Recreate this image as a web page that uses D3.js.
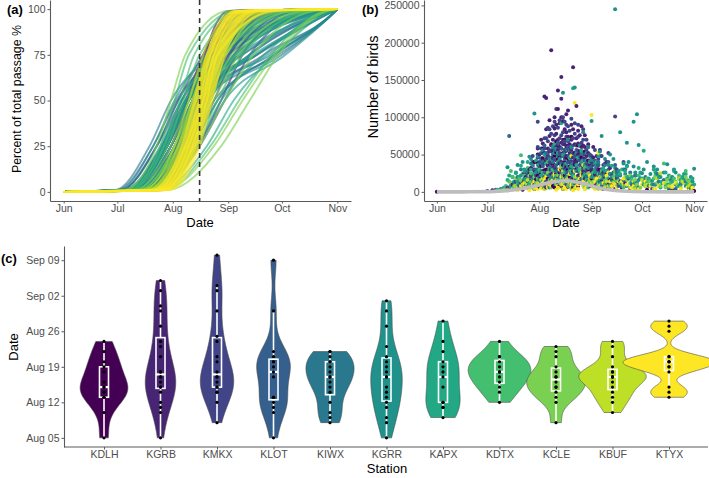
<!DOCTYPE html>
<html><head><meta charset="utf-8">
<script src="https://cdn.jsdelivr.net/npm/d3@7"></script>
<style>body{margin:0;background:#fff} text{font-family:"Liberation Sans",Arial,sans-serif}</style>
</head><body><svg id="chart" width="709" height="478"></svg>
<script>
// ---------- shared categories / ticks ----------
const stations = ["KDLH","KGRB","KMKX","KLOT","KIWX","KGRR","KAPX","KDTX","KCLE","KBUF","KTYX"];
const monthLabels = ["Jun","Jul","Aug","Sep","Oct","Nov"];
const monthDays = [0,30,61,92,122,153];          // days since Jun 1
const pctTicks = [0,25,50,75,100];
const birdTicks = [0,50000,100000,150000,200000,250000];
const dateTickDays = [0,7,14,21,28,35];           // days since Aug 05
const dateTickLabels = ["Aug 05","Aug 12","Aug 19","Aug 26","Sep 02","Sep 09"];
const meanPassageDay = 76;                        // dashed line (Aug 16)

// ---------- panel (a): cumulative passage curves ----------
// each curve: day (since Jun 1) reaching 1%,25%,50%,75%,99% of passage
const passageQuantiles = [1,25,50,75,99];
const curvesKDLH = [[46,66,75,82,96],[40,62,72,80,94],[44,64,74,83,98],[49,68,76,84,100],[42,60,70,81,102],[50,70,79,88,108],[36,58,69,78,96],[47,67,77,86,106],[52,71,80,90,112],[44,65,73,79,92]];
const curvesKGRB = [[34,55,66,80,108],[41,62,74,88,120],[46,68,80,92,125],[39,60,72,85,114],[49,72,84,96,128],[44,66,77,90,118],[37,58,70,82,108],[51,75,88,100,130],[42,63,75,86,110],[48,70,81,93,122]];
const curvesKMKX = [[32,52,64,78,106],[38,58,70,84,114],[44,66,78,92,124],[40,62,73,86,116],[49,70,82,95,128],[36,57,68,80,104],[46,68,80,98,135],[42,64,76,90,120],[52,76,90,104,138],[39,60,72,83,108]];
const curvesKLOT = [[30,50,63,88,145],[36,57,70,100,150],[42,64,76,108,151],[34,55,68,92,146],[46,68,80,112,152],[39,60,73,96,148],[49,72,86,118,152],[32,52,66,84,140],[44,66,78,104,150]];
const curvesKIWX = [[29,48,60,84,146],[34,55,68,108,151],[40,62,74,116,152],[38,58,70,92,148],[44,66,79,120,152],[32,52,64,88,144],[42,64,76,104,150],[36,56,69,98,149],[47,70,84,122,152]];
const curvesKGRR = [[31,50,62,80,135],[37,57,70,95,148],[41,62,74,106,151],[34,54,66,86,142],[46,68,81,114,152],[39,60,72,100,149],[49,72,86,118,152],[35,56,68,90,146],[43,65,77,108,150],[52,75,90,124,152]];
const curvesKAPX = [[34,55,66,84,128],[40,62,74,96,140],[46,68,80,104,146],[38,58,70,88,134],[50,74,88,112,148],[42,64,76,98,142],[54,80,95,118,150],[36,57,68,86,130]];
const curvesKDTX = [[36,54,62,70,96],[42,62,72,84,120],[48,70,82,96,136],[40,58,67,76,104],[52,74,86,100,138],[44,64,74,86,122],[56,82,98,116,146],[46,66,76,90,128],[38,56,65,73,98]];
const curvesKCLE = [[34,52,60,68,92],[44,64,74,86,120],[50,72,84,98,134],[56,84,100,118,146],[40,60,70,80,110],[52,76,90,106,140],[46,68,78,90,124],[58,88,104,120,148],[48,70,80,94,128],[42,62,72,82,114]];
const curvesKBUF = [[44,62,70,78,96],[49,66,74,82,102],[52,70,78,86,108],[46,64,72,80,98],[54,72,80,88,112],[48,67,76,85,105],[56,74,82,91,116],[50,68,77,84,103],[52,71,79,87,110],[47,65,73,81,100],[55,73,81,89,114],[51,69,78,86,106]];
const curvesKTYX = [[49,66,73,80,96],[52,69,76,83,100],[54,71,78,85,104],[56,73,80,87,106],[51,68,75,82,98],[58,75,82,89,108],[53,70,77,84,101],[55,72,79,86,105],[50,67,74,81,97],[57,74,81,88,107],[59,76,83,90,110],[54,70,78,84,102],[52,68,76,82,99],[56,72,80,86,118]];

// ---------- panel (b): nightly counts [day since Jun 1, thousands of birds] ----------
const countsKDLH = [[0,0],[33,2],[40,5],[46,12],[50,8],[53,20],[56,15],[58,28],[60,22],[62,35],[63,10],[65,42],[66,18],[67,55],[68,30],[69,8],[70,48],[71,25],[72,62],[73,38],[74,15],[75,52],[76,70],[77,33],[78,45],[79,20],[80,58],[81,40],[82,12],[83,30],[85,50],[86,22],[88,35],[90,15],[92,28],[95,10],[98,20],[102,6],[108,12],[115,4],[125,3],[140,2],[153,1],
 [51,3],[52,14],[54,6],[55,24],[57,9],[58,4],[59,17],[60,38],[61,7],[61,26],[62,14],[63,45],[64,5],[64,29],[65,12],[66,36],[67,8],[67,22],[68,16],[68,44],[69,27],[70,6],[70,33],[71,14],[71,53],[72,21],[73,9],[73,46],[74,30],[75,4],[75,24],[76,40],[76,12],[77,55],[77,18],[78,7],[78,30],[79,42],[80,10],[80,25],[81,6],[82,36],[83,16],[84,44],[84,8],[85,26],[86,12],[87,34],[88,5],[89,20],[90,30],[91,8],[93,16],[94,24],[96,5],[97,14],[100,10],[103,16],[106,4],[110,6],
 [56,32],[58,40],[60,50],[62,24],[63,58],[65,30],[66,48],[68,64],[69,38],[70,20],[71,68],[72,44],[73,26],[74,58],[75,36],[76,22],[77,46],[78,62],[79,34],[80,74],[81,28],[82,52],[83,42],[84,62],[85,14],[86,46],[87,24],[88,54],[90,42],[92,18],[94,38],[97,30],[99,4],[101,24],[104,8],[107,20]];
const countsKGRB = [[45,10],[49,18],[52,25],[55,30],[57,12],[59,40],[61,50],[62,20],[63,65],[64,128],[65,126],[66,35],[67,75],[68,190],[69,45],[70,85],[71,60],[72,136],[72,111],[73,28],[74,154],[74,125],[75,95],[76,55],[77,80],[78,109],[79,42],[80,70],[81,167],[82,50],[83,115],[84,65],[85,30],[86,88],[87,45],[88,60],[90,25],[92,40],[94,18],[96,30],[99,12],[104,20],[110,8],[120,5],
 [48,5],[50,12],[53,8],[54,18],[56,22],[58,10],[59,28],[60,16],[61,34],[62,9],[63,42],[64,20],[64,52],[65,6],[66,28],[66,58],[67,14],[68,36],[68,62],[69,22],[69,70],[70,10],[70,44],[71,30],[71,78],[72,16],[72,56],[73,40],[73,92],[74,8],[74,66],[75,26],[75,48],[76,84],[76,14],[77,36],[77,60],[78,20],[78,74],[79,52],[79,8],[80,32],[80,90],[81,18],[81,46],[82,64],[82,28],[83,10],[83,40],[84,82],[84,22],[85,54],[86,14],[86,38],[87,62],[88,18],[88,44],[89,28],[90,52],[91,12],[92,30],[93,46],[94,8],[95,22],[96,36],[98,14],[99,26],[101,40],[102,10],[105,18],[108,28],[112,12],
 [60,58],[62,70],[63,26],[65,84],[66,46],[67,96],[68,24],[69,56],[70,100],[71,18],[71,90],[72,70],[73,60],[74,40],[74,100],[75,70],[76,30],[76,64],[77,104],[77,48],[78,40],[79,64],[80,56],[80,12],[81,84],[82,40],[83,72],[84,50],[85,76],[85,12],[86,60],[87,28],[88,76],[89,48],[90,64],[91,36],[93,60],[95,48],[97,56],[100,20],[103,32]];
const countsKMKX = [[30,1],[42,6],[47,14],[51,10],[54,22],[57,35],[58,18],[60,94],[61,30],[62,45],[64,58],[65,24],[66,68],[67,40],[69,88],[70,32],[71,111],[72,50],[73,72],[75,64],[75,100],[76,38],[77,90],[78,27],[79,60],[80,46],[82,78],[83,35],[84,55],[85,20],[87,70],[89,38],[91,50],[93,22],[95,33],[97,15],[100,25],[103,10],[106,101],[107,18],[112,8],[118,12],[128,4],[138,2],[150,3],
 [46,4],[49,9],[52,15],[55,6],[56,20],[58,30],[59,12],[60,46],[61,20],[62,8],[62,58],[63,28],[64,38],[65,14],[65,72],[66,48],[67,22],[67,84],[68,10],[68,54],[69,34],[70,18],[70,64],[71,42],[72,26],[72,86],[73,12],[73,52],[74,36],[74,76],[75,20],[76,56],[76,94],[77,30],[77,10],[78,48],[78,68],[79,16],[79,82],[80,36],[80,58],[81,24],[81,72],[82,12],[82,44],[83,62],[84,28],[84,90],[85,42],[86,66],[86,18],[87,32],[88,50],[89,16],[89,70],[90,36],[91,22],[92,48],[94,30],[95,10],[96,44],[97,24],[99,36],[101,16],[102,52],[104,22],[107,30],[109,14],[111,40],[114,18],
 [57,48],[59,22],[60,60],[61,40],[63,52],[64,72],[65,44],[66,86],[67,56],[68,78],[69,60],[70,94],[70,76],[71,20],[72,64],[73,96],[74,50],[75,80],[75,30],[76,68],[77,74],[78,58],[78,88],[79,40],[80,98],[81,52],[82,92],[83,50],[84,74],[85,62],[86,36],[87,84],[88,26],[89,56],[90,60],[91,42],[93,36],[94,56],[96,26],[98,48],[100,38]];
const countsKLOT = [[35,3],[43,75],[48,8],[52,16],[56,24],[60,12],[62,38],[64,20],[66,52],[68,15],[70,44],[72,30],[74,58],[76,26],[78,40],[80,18],[81,62],[83,34],[85,48],[87,14],[89,30],[91,20],[94,42],[97,12],[100,26],[104,16],[108,8],[114,20],[120,6],[130,10],[142,4],[152,8],
 [44,4],[50,10],[54,14],[58,20],[60,8],[61,26],[63,34],[65,10],[67,30],[68,46],[69,20],[71,36],[72,12],[73,50],[75,30],[76,44],[77,14],[78,60],[79,24],[80,36],[82,48],[83,16],[84,30],[86,22],[88,42],[90,12],[92,34],[95,20],[98,30],[101,14],[103,24],[106,36],[110,14],[116,10],[124,16],
 [57,40],[59,30],[62,52],[64,62],[66,24],[68,30],[70,56],[72,66],[74,38],[76,54],[78,26],[80,50],[81,40],[83,56],[85,36],[87,22],[89,40],[91,48],[93,26],[96,36],[99,22],[102,40],[105,26],[112,30],[118,22]];
const countsKIWX = [[38,4],[44,9],[48,20],[51,12],[54,26],[57,16],[60,30],[63,14],[65,38],[67,22],[69,50],[71,28],[73,42],[75,18],[77,56],[79,32],[81,24],[84,44],[86,16],[88,36],[90,60],[93,24],[96,40],[99,18],[102,30],[105,12],[109,22],[113,35],[117,10],[121,18],[126,8],[132,14],[138,6],[145,10],[151,5],
 [42,2],[46,12],[49,6],[52,18],[55,10],[58,22],[61,16],[62,44],[64,26],[66,12],[68,34],[70,18],[72,48],[74,26],[76,36],[78,14],[80,46],[82,30],[83,16],[85,26],[87,50],[89,20],[91,32],[94,14],[97,24],[100,36],[103,14],[107,26],[111,16],[115,26],[119,12],[124,20],[129,10],[135,16],[142,12],
 [50,30],[56,38],[59,8],[63,40],[65,52],[67,6],[69,40],[71,56],[73,20],[75,48],[77,26],[79,56],[81,38],[84,30],[86,52],[88,10],[92,42],[95,30],[98,8],[101,20],[106,32],[110,8],[118,22],[123,10],[131,24],[140,18],[148,14]];
const countsKGRR = [[40,5],[42,33],[46,14],[50,22],[53,10],[55,47],[58,105],[59,26],[61,36],[63,18],[65,48],[67,30],[69,60],[71,20],[73,44],[75,133],[76,34],[78,70],[80,25],[82,140],[83,52],[85,30],[87,80],[89,42],[92,95],[93,20],[95,35],[98,75],[100,28],[103,50],[106,245],[107,22],[109,80],[111,38],[113,66],[115,18],[117,94],[119,104],[120,63],[122,25],[125,40],[128,15],[131,30],[134,12],[137,37],[140,20],[143,8],[147,18],[150,12],[153,31],
 [38,2],[44,8],[47,26],[49,12],[52,30],[54,18],[56,8],[57,36],[60,14],[62,28],[64,10],[66,40],[68,18],[70,52],[72,26],[74,36],[77,20],[79,46],[81,30],[84,16],[86,40],[88,22],[90,32],[91,12],[94,26],[96,48],[97,16],[99,30],[101,12],[102,36],[104,20],[108,28],[110,12],[112,24],[114,40],[116,14],[118,26],[121,18],[124,12],[127,24],[130,10],[133,20],[136,8],[139,16],[142,26],[145,12],[148,8],[151,20],
 [45,20],[48,36],[51,40],[53,28],[56,44],[58,16],[60,48],[63,56],[65,22],[67,44],[69,28],[71,58],[73,16],[76,50],[78,34],[80,60],[83,28],[85,62],[87,18],[89,52],[92,44],[94,38],[97,54],[100,44],[103,24],[105,44],[108,16],[111,30],[113,8],[117,34],[120,16],[123,30],[126,16],[129,34],[132,22],[135,26],[138,10],[141,30],[144,18],[147,24],[150,6],[152,14]];
const countsKAPX = [[36,3],[44,12],[47,25],[50,35],[53,18],[56,30],[59,42],[62,22],[64,50],[67,32],[70,64],[72,40],[74,92],[76,28],[79,45],[81,139],[83,36],[86,55],[88,24],[91,40],[94,30],[97,48],[100,22],[104,35],[108,15],[112,28],[116,20],[120,32],[123,55],[126,18],[130,26],[134,14],[138,22],[142,10],[146,20],[150,15],[153,10],
 [40,6],[42,16],[46,4],[49,20],[52,28],[55,12],[58,24],[60,36],[63,14],[66,24],[68,44],[71,16],[73,30],[75,50],[78,20],[80,34],[82,12],[85,28],[87,42],[90,16],[93,24],[96,14],[99,32],[102,18],[106,26],[110,10],[114,20],[118,12],[122,18],[128,10],[132,20],[136,26],[140,14],[144,8],[148,24],[152,18],
 [43,22],[48,14],[51,24],[54,40],[57,16],[61,28],[65,38],[69,22],[72,52],[74,18],[77,38],[79,28],[81,22],[84,46],[88,36],[92,20],[95,40],[98,12],[101,28],[105,14],[109,24],[113,34],[117,8],[121,26],[125,12],[129,30],[133,6],[137,18],[141,28],[145,16],[149,10]];
const countsKDTX = [[38,2],[45,20],[48,10],[50,49],[53,14],[56,25],[58,8],[61,30],[64,16],[66,40],[68,12],[71,22],[74,35],[77,14],[80,28],[84,18],[88,32],[92,12],[96,24],[100,10],[105,20],[110,30],[115,12],[120,22],[124,8],[129,18],[135,38],[139,12],[144,22],[148,28],[152,6],
 [41,8],[43,14],[47,4],[52,22],[55,8],[60,18],[63,26],[67,10],[70,20],[73,12],[76,26],[79,8],[82,16],[86,24],[90,6],[94,18],[98,28],[103,8],[107,14],[113,20],[118,6],[126,14],[132,8],[141,18],[150,10],
 [44,28],[49,18],[54,32],[57,12],[62,12],[65,22],[69,30],[72,16],[75,24],[78,20],[81,10],[85,30],[89,16],[93,26],[97,10],[101,16],[106,28],[111,6],[116,16],[123,12],[130,22],[137,10],[146,16]];
const countsKCLE = [[40,3],[46,8],[50,15],[54,6],[58,20],[62,10],[66,26],[70,14],[74,32],[78,8],[82,20],[86,12],[90,25],[95,6],[100,15],[106,24],[112,8],[118,16],[124,10],[130,20],[136,6],[142,14],[148,20],[152,4],
 [44,12],[48,4],[52,10],[56,14],[60,6],[64,18],[68,6],[72,22],[76,12],[80,4],[84,16],[88,8],[93,14],[98,20],[103,6],[109,12],[115,22],[121,6],[127,14],[133,8],[139,20],[145,6],[150,14],
 [47,18],[55,22],[59,12],[63,8],[67,16],[71,10],[75,20],[79,16],[83,8],[87,20],[91,14],[96,10],[101,18],[107,8],[113,16],[119,10],[125,18],[131,12],[137,16],[143,10],[149,16]];
const countsKBUF = [[42,2],[48,6],[53,12],[58,4],[62,16],[66,8],[70,22],[74,10],[78,18],[82,5],[86,26],[90,10],[95,16],[100,6],[105,12],[112,20],[118,4],[125,10],[133,25],[140,6],[147,12],[152,3],
 [45,4],[51,10],[56,6],[60,12],[64,4],[68,14],[72,6],[76,16],[80,8],[84,14],[88,4],[92,12],[97,20],[102,8],[108,14],[115,6],[122,16],[129,4],[136,12],[144,18],[150,8],
 [47,8],[54,16],[59,8],[63,18],[67,12],[71,16],[75,4],[79,12],[83,20],[87,8],[91,18],[96,4],[101,14],[106,18],[111,10],[117,14],[124,8],[131,18],[138,8],[146,14],[151,10]];
const countsKTYX = [[45,3],[50,8],[55,2],[58,14],[62,5],[65,20],[68,9],[71,3],[73,30],[75,12],[77,4],[79,24],[80,48],[82,119],[83,7],[85,18],[87,36],[89,6],[92,103],[94,14],[96,52],[98,4],[101,22],[104,8],[110,14],[116,5],[122,10],[130,4],[140,8],[150,2],
 [48,2],[53,6],[57,10],[60,4],[63,12],[66,6],[69,16],[72,8],[74,20],[76,6],[78,14],[81,2],[84,10],[86,22],[88,4],[90,12],[93,6],[95,18],[97,8],[100,4],[103,14],[107,6],[113,10],[120,4],[127,8],[135,12],[145,4],[152,6],
 [52,12],[59,6],[64,16],[67,10],[70,24],[73,6],[75,28],[77,16],[80,10],[82,28],[84,4],[87,14],[91,22],[94,4],[99,12],[102,26],[106,10],[111,18],[117,8],[124,14],[132,8],[142,12],[149,6]];
// smoothed trend (grey line), thousands of birds
const smoothDays = [0,20,35,45,55,62,70,77,84,92,100,110,122,140,153];
const smoothK    = [0,0,0.5,2,6,10,14,15.5,13,8,3,1,0,0,0];

// ---------- panel (c): median passage date per station-year (days since Aug 05) ----------
const medKDLH = [0,5,8,8,9,10,10,11,13,14,15,17,19];
const medKGRB = [0,5,6,7,9,10,10,11,12,12,13,13,16,18,19,22,25,26,29,31];
const medKMKX = [3,7,9,9,10,10,11,12,12,13,15,16,19,20,25,29,30,36];
const medKLOT = [0,5,6,7,8,8,12,13,14,15,15,16,17,25,35];
const medKIWX = [3,4,5,7,9,10,11,12,12,13,14,15,15,16,17,17];
const medKGRR = [0,3,4,6,7,8,9,10,12,12,13,14,15,16,18,22,25,27];
const medKAPX = [4,6,6,7,7,10,12,13,14,15,17,19,23];
const medKDTX = [7,9,10,11,12,13,13,14,15,16,16,19];
const medKCLE = [3,7,8,9,10,10,11,12,12,13,14,16,17,18];
const medKBUF = [5,7,8,9,10,11,12,12,12,13,13,14,16,18,19];
const medKTYX = [8,9,10,13,14,14,15,15,15,16,16,21,22,23];

// ---------- build tables ----------
const curveSets = [curvesKDLH,curvesKGRB,curvesKMKX,curvesKLOT,curvesKIWX,curvesKGRR,curvesKAPX,curvesKDTX,curvesKCLE,curvesKBUF,curvesKTYX];
const countSets = [countsKDLH,countsKGRB,countsKMKX,countsKLOT,countsKIWX,countsKGRR,countsKAPX,countsKDTX,countsKCLE,countsKBUF,countsKTYX];
const medSets = [medKDLH,medKGRB,medKMKX,medKLOT,medKIWX,medKGRR,medKAPX,medKDTX,medKCLE,medKBUF,medKTYX];

const color = d3.scaleOrdinal().domain(stations).range(stations.map((s,i)=>d3.interpolateViridis(i/(stations.length-1))));

const svg = d3.select("#chart");
const AX = "#5a5a5a", TXT = "#4d4d4d";
function styleAxis(g){
  g.select(".domain").attr("stroke",AX).attr("stroke-width",1.1);
  g.selectAll(".tick line").attr("stroke",AX).attr("stroke-width",1);
  g.selectAll(".tick text").attr("fill",TXT).style("font-size","10.5px").style("font-family","Liberation Sans, Arial, sans-serif");
}
function title(x,y,txt,rot,size){
  svg.append("text").attr("x",x).attr("y",y).attr("text-anchor","middle")
    .attr("transform",rot?`rotate(-90,${x},${y})`:null)
    .style("font-size",(size||13)+"px").attr("fill","#000").text(txt);
}
function tag(x,y,t){ svg.append("text").attr("x",x).attr("y",y).style("font-size","13px").style("font-weight","bold").text(t); }

// ===== Panel (a) =====
const xA = d3.scaleLinear().domain([-7.65,160.65]).range([50,351]);
const yA = d3.scaleLinear().domain([-5,105]).range([201,0]);
const gA = svg.append("g");
const lineA = d3.line().x(d=>xA(d[0])).y(d=>yA(d[1])).curve(d3.curveMonotoneX);
curveSets.forEach((set,i)=>{
  set.forEach(q=>{
    const pts = [[monthDays[0],0]].concat(q.map((d,k)=>[d,passageQuantiles[k]])).concat([[monthDays[5],100]]);
    gA.append("path").attr("d",lineA(pts)).attr("fill","none")
      .attr("stroke",color(stations[i])).attr("stroke-width",1.9).attr("stroke-opacity",0.62);
  });
});
gA.append("line").attr("x1",xA(meanPassageDay)).attr("x2",xA(meanPassageDay)).attr("y1",0).attr("y2",201)
  .attr("stroke","#333").attr("stroke-width",1.6).attr("stroke-dasharray","5,4");
svg.append("g").attr("transform","translate(0,201)")
  .call(d3.axisBottom(xA).tickValues(monthDays).tickFormat((d,i)=>monthLabels[i]).tickSize(2.5).tickSizeOuter(0).tickPadding(1.5))
  .call(styleAxis);
svg.append("g").attr("transform","translate(50,0)")
  .call(d3.axisLeft(yA).tickValues(pctTicks).tickSize(2.5).tickSizeOuter(0).tickPadding(2))
  .call(styleAxis);
title(200,227,"Date");
title(21,99,"Percent of total passage %",true,12.4);
tag(7,14,"(a)");

// ===== Panel (b) =====
const xB = d3.scaleLinear().domain([-7.65,160.65]).range([424,707]);
const yB = d3.scaleLinear().domain([-12.25,257.25]).range([201,0]);
const gB = svg.append("g");
const allCounts = [];
countSets.forEach((set,i)=>set.forEach(d=>allCounts.push({day:d[0],k:d[1],st:stations[i]})));
allCounts.sort((a,b)=>a.day-b.day);
gB.selectAll(null).data(allCounts).enter().append("circle")
  .attr("cx",d=>xB(d.day)).attr("cy",d=>yB(d.k)).attr("r",2)
  .attr("fill",d=>color(d.st));
gB.append("path").datum(smoothDays.map((d,i)=>[d,smoothK[i]]))
  .attr("d",d3.line().x(d=>xB(d[0])).y(d=>yB(d[1])).curve(d3.curveBasis))
  .attr("fill","none").attr("stroke","#bdbdbd").attr("stroke-width",3.6);
svg.append("g").attr("transform","translate(0,201)")
  .call(d3.axisBottom(xB).tickValues(monthDays).tickFormat((d,i)=>monthLabels[i]).tickSize(2.5).tickSizeOuter(0).tickPadding(1.5))
  .call(styleAxis);
svg.append("g").attr("transform","translate(424,0)")
  .call(d3.axisLeft(yB).tickValues(birdTicks.map(v=>v/1000)).tickFormat(d=>String(d*1000)).tickSize(2.5).tickSizeOuter(0).tickPadding(2))
  .call(styleAxis);
title(566,227,"Date");
title(378,87,"Number of birds",true,14.5);
tag(362,14,"(b)");

// ===== Panel (c) =====
const xC = d3.scalePoint().domain(stations).range([104,669]);
const yC = d3.scaleLinear().domain([-1.8,37.8]).range([447,246]);
const gC = svg.append("g");
function nrd0(v){
  const s = d3.deviation(v), sorted = v.slice().sort(d3.ascending);
  const iqr = d3.quantile(sorted,0.75)-d3.quantile(sorted,0.25);
  let lo = Math.min(s, iqr/1.34); if(!lo) lo = s||1;
  return 0.9*lo*Math.pow(v.length,-0.2);
}
const dens = medSets.map(v=>{
  const bw = nrd0(v), lo = d3.min(v), hi = d3.max(v);
  const grid = d3.range(0,201).map(k=>lo+(hi-lo)*k/200);
  return grid.map(y=>({y, d: d3.mean(v,x=>Math.exp(-0.5*((y-x)/bw)**2))/(bw*Math.sqrt(2*Math.PI))}));
});
const maxD = d3.max(dens, a=>d3.max(a,p=>p.d));
const wScale = d3.scaleLinear().domain([0,maxD]).range([0,46]);
medSets.forEach((v,i)=>{
  const cx = xC(stations[i]);
  gC.append("path").datum(dens[i])
    .attr("d",d3.area().y(p=>yC(p.y)).x0(p=>cx-wScale(p.d)).x1(p=>cx+wScale(p.d)))
    .attr("fill",color(stations[i])).attr("stroke","#4a4a4a").attr("stroke-width",0.6);
  const s = v.slice().sort(d3.ascending);
  const q1 = d3.quantile(s,0.25), md = d3.quantile(s,0.5), q3 = d3.quantile(s,0.75), iqr = q3-q1;
  const wlo = d3.min(s.filter(x=>x>=q1-1.5*iqr)), whi = d3.max(s.filter(x=>x<=q3+1.5*iqr));
  const bw = 9;
  gC.append("line").attr("x1",cx).attr("x2",cx).attr("y1",yC(whi)).attr("y2",yC(q3)).attr("stroke","#fff").attr("stroke-width",1.6);
  gC.append("line").attr("x1",cx).attr("x2",cx).attr("y1",yC(q1)).attr("y2",yC(wlo)).attr("stroke","#fff").attr("stroke-width",1.6);
  gC.append("rect").attr("x",cx-bw/2).attr("width",bw).attr("y",yC(q3)).attr("height",yC(q1)-yC(q3))
    .attr("fill","none").attr("stroke","#fff").attr("stroke-width",1.6);
  gC.append("line").attr("x1",cx-bw/2).attr("x2",cx+bw/2).attr("y1",yC(md)).attr("y2",yC(md)).attr("stroke","#fff").attr("stroke-width",2.2);
  gC.selectAll(null).data(v).enter().append("circle").attr("cx",cx).attr("cy",d=>yC(d)).attr("r",1.6).attr("fill","#000");
});
const axC = svg.append("g").attr("transform","translate(0,447)")
  .call(d3.axisBottom(xC).tickSize(2.5).tickSizeOuter(0).tickPadding(1.5)).call(styleAxis);
axC.select(".domain").remove();
svg.append("line").attr("x1",64).attr("x2",708).attr("y1",447).attr("y2",447).attr("stroke",AX).attr("stroke-width",1.1);
svg.append("g").attr("transform","translate(64,0)")
  .call(d3.axisLeft(yC).tickValues(dateTickDays).tickFormat((d,i)=>dateTickLabels[i]).tickSize(2.5).tickSizeOuter(0).tickPadding(2))
  .call(styleAxis);
title(387,473,"Station");
title(18,347,"Date",true);
tag(1,263,"(c)");
</script></body></html>
